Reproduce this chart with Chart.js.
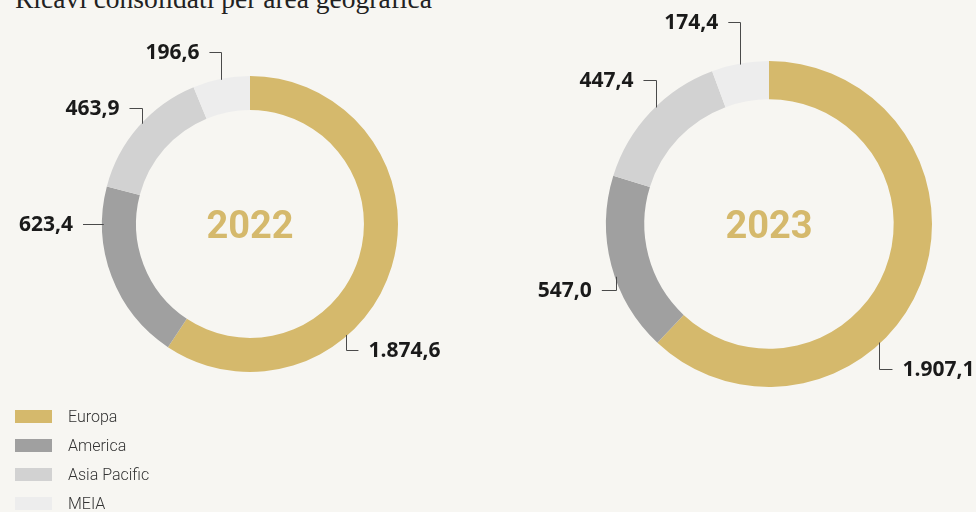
<!DOCTYPE html>
<html lang="it">
<head>
  <meta charset="UTF-8" />
  <title>Ricavi consolidati per area geografica</title>
  <script src="https://cdn.jsdelivr.net/npm/chart.js"></script>
  <style>
    html, body {
      margin: 0;
      padding: 0;
      width: 976px;
      height: 512px;
      overflow: hidden;
      background: #f7f6f2;
    }
    .title {
      position: absolute;
      left: 15px;
      top: -15px;
      font-family: 'Liberation Serif', serif;
      font-size: 27.5px;
      line-height: 27.5px;
      color: #222;
      white-space: nowrap;
    }
    .chart-box {
      position: absolute;
      top: 0;
      width: 488px;
      height: 512px;
    }
    #box2022 { left: 0; }
    #box2023 { left: 488px; }
    .legend {
      position: absolute;
      left: 15px;
      top: 402px;
      font-family: Roboto, sans-serif;
      font-weight: 300;
      font-size: 16px;
      color: #333;
    }
    .legend-row {
      display: flex;
      align-items: center;
      height: 29px;
    }
    .legend-row span.swatch {
      display: inline-block;
      width: 37px;
      height: 13px;
      margin-right: 16px;
    }
  </style>
</head>
<body>

  <div class="title">Ricavi consolidati per area geografica</div>

  <div class="chart-box" id="box2022"><canvas id="chart2022" width="488" height="512"></canvas></div>
  <div class="chart-box" id="box2023"><canvas id="chart2023" width="488" height="512"></canvas></div>

  <div class="legend" id="legend"></div>

  <script>
    // dati (milioni di euro)
    const areas = ["Europa", "America", "Asia Pacific", "MEIA"];
    const years = ["2022", "2023"];
    const ricavi2022 = [1874.6, 623.4, 463.9, 196.6];
    const ricavi2023 = [1907.1, 547.0, 447.4, 174.4];
    const colors = ["#d5b96c", "#a0a0a0", "#d2d2d2", "#ededed"];

    function fmt(v) {
      const parts = v.toFixed(1).split(".");
      parts[0] = parts[0].replace(/\B(?=(\d{3})+(?!\d))/g, ".");
      return parts.join(",");
    }

    // leader lines + center label
    const leaderPlugin = {
      id: "leaders",
      afterDraw(chart, args, opts) {
        const ctx = chart.ctx;
        const meta = chart.getDatasetMeta(0);
        const values = chart.data.datasets[0].data;
        let cx = 0, cy = 0;
        meta.data.forEach((arc, i) => {
          const p = arc.getProps(["x", "y", "outerRadius", "startAngle", "endAngle"], true);
          cx = p.x; cy = p.y;
          const spec = opts.leaders[i];
          const a = spec.angle != null ? (spec.angle - 90) * Math.PI / 180 : (p.startAngle + p.endAngle) / 2;
          const x0 = p.x + Math.cos(a) * (p.outerRadius - 1);
          const y0 = p.y + Math.sin(a) * (p.outerRadius - 1);
          const y1 = y0 + spec.dy;
          const x1 = x0 + spec.dx;
          ctx.save();
          ctx.strokeStyle = "#4a4a4a";
          ctx.lineWidth = 1;
          ctx.beginPath();
          ctx.moveTo(Math.round(x0) + 0.5, y0);
          ctx.lineTo(Math.round(x0) + 0.5, Math.round(y1) + 0.5);
          ctx.lineTo(x1, Math.round(y1) + 0.5);
          ctx.stroke();
          ctx.fillStyle = "#1a1a1a";
          ctx.font = "bold 21px 'Open Sans', sans-serif";
          ctx.textBaseline = "middle";
          ctx.textAlign = spec.dx < 0 ? "right" : "left";
          ctx.fillText(fmt(values[i]), x1 + (spec.dx < 0 ? -10 : 10), y1 + 1);
          ctx.restore();
        });
        ctx.save();
        ctx.fillStyle = colors[0];
        ctx.font = "bold 38px Roboto, sans-serif";
        ctx.textAlign = "center";
        ctx.textBaseline = "alphabetic";
        ctx.fillText(opts.centerText, cx, cy + 14);
        ctx.restore();
      }
    };

    function makeChart(id, year, values, padding, cutout, leaders) {
      return new Chart(document.getElementById(id), {
        type: "doughnut",
        data: {
          labels: areas,
          datasets: [{
            data: values,
            backgroundColor: colors,
            borderWidth: 0,
            hoverOffset: 0
          }]
        },
        options: {
          responsive: false,
          animation: false,
          cutout: cutout,
          layout: { padding: padding },
          plugins: {
            legend: { display: false },
            tooltip: { enabled: false },
            leaders: { leaders: leaders, centerText: year }
          }
        },
        plugins: [leaderPlugin]
      });
    }

    makeChart("chart2022", years[0], ricavi2022,
      { left: 102, right: 90, top: 76, bottom: 140 }, "77%",
      [
        { angle: 139, dy: 15, dx: 12 },
        { angle: 270, dy: 0, dx: -20 },
        { angle: 313, dy: -16, dx: -13 },
        { angle: null, dy: -28, dx: -12 }
      ]);

    makeChart("chart2023", years[1], ricavi2023,
      { left: 118, right: 44, top: 61, bottom: 125 }, "76.5%",
      [
        { angle: 137, dy: 27, dx: 13 },
        { angle: 251, dy: 13, dx: -14 },
        { angle: 316, dy: -27, dx: -13 },
        { angle: null, dy: -43, dx: -12 }
      ]);

    // legenda
    const legend = document.getElementById("legend");
    areas.forEach((name, i) => {
      const row = document.createElement("div");
      row.className = "legend-row";
      row.innerHTML = `<span class="swatch" style="background:${colors[i]}"></span>${name}`;
      legend.appendChild(row);
    });
  </script>

</body>
</html>
